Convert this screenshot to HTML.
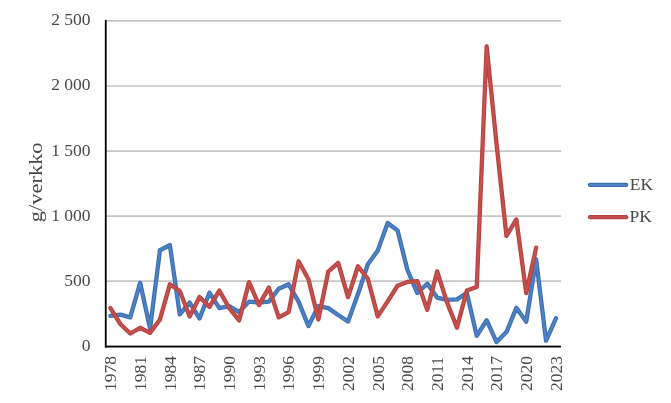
<!DOCTYPE html>
<html><head><meta charset="utf-8"><title>Chart</title>
<style>
html,body{margin:0;padding:0;background:#fff;}
svg{display:block;font-family:"Liberation Serif",serif;font-size:17.5px;fill:#484848;}
</style></head><body>
<svg width="671" height="403" viewBox="0 0 671 403">
<rect width="671" height="403" fill="#fff"/>
<g stroke="#c6c6c6" stroke-width="1.7"><line x1="105.75" x2="561" y1="346.20" y2="346.20"/><line x1="105.75" x2="561" y1="281.15" y2="281.15"/><line x1="105.75" x2="561" y1="216.10" y2="216.10"/><line x1="105.75" x2="561" y1="151.05" y2="151.05"/><line x1="105.75" x2="561" y1="86.00" y2="86.00"/><line x1="105.75" x2="561" y1="20.95" y2="20.95"/></g>
<g><text x="90.5" y="350.6" text-anchor="end">0</text><text x="90.5" y="285.5" text-anchor="end">500</text><text x="90.5" y="220.5" text-anchor="end">1 000</text><text x="90.5" y="155.5" text-anchor="end">1 500</text><text x="90.5" y="90.4" text-anchor="end">2 000</text><text x="90.5" y="25.3" text-anchor="end">2 500</text></g>
<g><text transform="translate(116.20,391.0) rotate(-90)">1978</text><text transform="translate(145.90,391.0) rotate(-90)">1981</text><text transform="translate(175.60,391.0) rotate(-90)">1984</text><text transform="translate(205.30,391.0) rotate(-90)">1987</text><text transform="translate(235.00,391.0) rotate(-90)">1990</text><text transform="translate(264.70,391.0) rotate(-90)">1993</text><text transform="translate(294.40,391.0) rotate(-90)">1996</text><text transform="translate(324.10,391.0) rotate(-90)">1999</text><text transform="translate(353.80,391.0) rotate(-90)">2002</text><text transform="translate(383.50,391.0) rotate(-90)">2005</text><text transform="translate(413.20,391.0) rotate(-90)">2008</text><text transform="translate(442.90,391.0) rotate(-90)">2011</text><text transform="translate(472.60,391.0) rotate(-90)">2014</text><text transform="translate(502.30,391.0) rotate(-90)">2017</text><text transform="translate(532.00,391.0) rotate(-90)">2020</text><text transform="translate(561.70,391.0) rotate(-90)">2023</text></g>
<text transform="translate(41.8,222.2) rotate(-90)" font-size="18.6" textLength="79.8" lengthAdjust="spacingAndGlyphs">g/verkko</text>
<polyline fill="none" stroke="#3a6fb7" stroke-width="4.3" stroke-linejoin="round" stroke-linecap="round" points="110.45,315.94 120.35,314.64 130.25,317.37 140.15,282.76 150.05,328.43 159.95,250.24 169.85,245.03 179.75,314.38 189.65,302.54 199.55,318.54 209.45,292.65 219.35,308.13 229.25,306.05 239.15,312.04 249.05,301.63 258.95,302.54 268.85,301.63 278.75,288.75 288.65,284.32 298.55,301.63 308.45,326.09 318.35,306.05 328.25,308.13 338.15,315.03 348.05,321.53 357.95,294.08 367.85,264.29 377.75,250.63 387.65,223.05 397.55,230.46 407.45,270.01 417.35,293.04 427.25,283.80 437.15,297.59 447.05,299.81 456.95,299.42 466.85,293.04 476.75,335.84 486.65,320.23 496.55,342.09 506.45,332.07 516.35,307.87 526.25,321.66 536.15,259.48 546.05,340.66 555.95,318.28"/>
<polyline fill="none" stroke="#4f82c0" stroke-width="2" stroke-linejoin="round" stroke-linecap="round" points="110.45,315.94 120.35,314.64 130.25,317.37 140.15,282.76 150.05,328.43 159.95,250.24 169.85,245.03 179.75,314.38 189.65,302.54 199.55,318.54 209.45,292.65 219.35,308.13 229.25,306.05 239.15,312.04 249.05,301.63 258.95,302.54 268.85,301.63 278.75,288.75 288.65,284.32 298.55,301.63 308.45,326.09 318.35,306.05 328.25,308.13 338.15,315.03 348.05,321.53 357.95,294.08 367.85,264.29 377.75,250.63 387.65,223.05 397.55,230.46 407.45,270.01 417.35,293.04 427.25,283.80 437.15,297.59 447.05,299.81 456.95,299.42 466.85,293.04 476.75,335.84 486.65,320.23 496.55,342.09 506.45,332.07 516.35,307.87 526.25,321.66 536.15,259.48 546.05,340.66 555.95,318.28"/>
<polyline fill="none" stroke="#b9403e" stroke-width="4.3" stroke-linejoin="round" stroke-linecap="round" points="110.45,308.13 120.35,324.00 130.25,333.50 140.15,327.78 150.05,332.85 159.95,319.45 169.85,284.32 179.75,291.09 189.65,316.46 199.55,297.07 209.45,306.96 219.35,290.57 229.25,308.13 239.15,320.36 249.05,282.11 258.95,305.14 268.85,287.58 278.75,317.37 288.65,312.04 298.55,261.30 308.45,279.25 318.35,319.45 328.25,271.70 338.15,262.86 348.05,297.07 357.95,266.24 367.85,278.73 377.75,316.33 387.65,301.37 397.55,285.76 407.45,281.98 417.35,281.20 427.25,309.82 437.15,271.44 447.05,302.41 456.95,327.65 466.85,290.44 476.75,287.06 486.65,46.37 496.55,143.95 506.45,235.93 516.35,219.40 526.25,293.04 536.15,247.64"/>
<polyline fill="none" stroke="#c4524f" stroke-width="2" stroke-linejoin="round" stroke-linecap="round" points="110.45,308.13 120.35,324.00 130.25,333.50 140.15,327.78 150.05,332.85 159.95,319.45 169.85,284.32 179.75,291.09 189.65,316.46 199.55,297.07 209.45,306.96 219.35,290.57 229.25,308.13 239.15,320.36 249.05,282.11 258.95,305.14 268.85,287.58 278.75,317.37 288.65,312.04 298.55,261.30 308.45,279.25 318.35,319.45 328.25,271.70 338.15,262.86 348.05,297.07 357.95,266.24 367.85,278.73 377.75,316.33 387.65,301.37 397.55,285.76 407.45,281.98 417.35,281.20 427.25,309.82 437.15,271.44 447.05,302.41 456.95,327.65 466.85,290.44 476.75,287.06 486.65,46.37 496.55,143.95 506.45,235.93 516.35,219.40 526.25,293.04 536.15,247.64"/>
<line x1="105.75" x2="105.75" y1="20.7" y2="346.7" stroke="#000" stroke-width="1.8" stroke-linecap="round"/>
<line x1="105.75" x2="560.2" y1="346.7" y2="346.7" stroke="#000" stroke-width="1.8" stroke-linecap="round"/>
<line x1="590" x2="626.2" y1="184.9" y2="184.9" stroke="#3a6fb7" stroke-width="4.3" stroke-linecap="round"/><line x1="590" x2="626.2" y1="184.9" y2="184.9" stroke="#4f82c0" stroke-width="2" stroke-linecap="round"/>
<text x="629.8" y="190.0">EK</text>
<line x1="590" x2="626.2" y1="217.2" y2="217.2" stroke="#b9403e" stroke-width="4.3" stroke-linecap="round"/><line x1="590" x2="626.2" y1="217.2" y2="217.2" stroke="#c4524f" stroke-width="2" stroke-linecap="round"/>
<text x="629.6" y="222.1">PK</text>
</svg>
</body></html>
